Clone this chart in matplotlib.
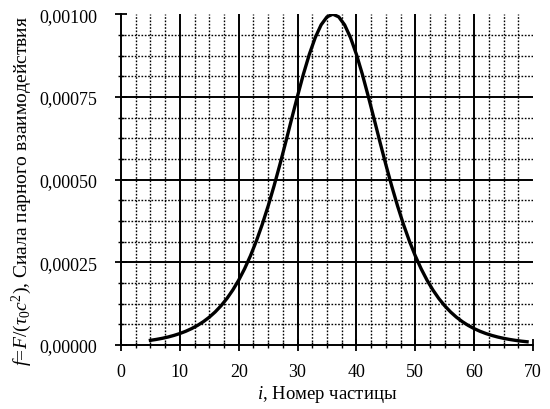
import matplotlib
matplotlib.use("Agg")
import matplotlib.pyplot as plt
import numpy as np
from matplotlib.ticker import MultipleLocator, FuncFormatter

# Particle number and pair interaction force
particle = list(range(5, 70))
force = [
    0.0142, 0.0170, 0.0203, 0.0243, 0.0291, 0.0348, 0.0416, 0.0497, 0.0593,
    0.0707, 0.0841, 0.1000, 0.1188, 0.1407, 0.1664, 0.1961, 0.2305, 0.2698,
    0.3144, 0.3645, 0.4200, 0.4806, 0.5456, 0.6138, 0.6840, 0.7528, 0.8190,
    0.8786, 0.9290, 0.9676, 0.9918, 1.0000, 0.9918, 0.9676, 0.9290, 0.8786,
    0.8190, 0.7528, 0.6840, 0.6138, 0.5456, 0.4806, 0.4200, 0.3645, 0.3144,
    0.2698, 0.2305, 0.1961, 0.1664, 0.1407, 0.1188, 0.1000, 0.0841, 0.0707,
    0.0593, 0.0497, 0.0416, 0.0348, 0.0291, 0.0243, 0.0203, 0.0170, 0.0142,
    0.0118, 0.0099,
]
force = [v * 1e-3 for v in force]

x_major = [0, 10, 20, 30, 40, 50, 60, 70]
y_major = [0.0, 0.00025, 0.0005, 0.00075, 0.001]

plt.rcParams["font.family"] = ["Liberation Serif", "DejaVu Serif"]
plt.rcParams["mathtext.fontset"] = "custom"
plt.rcParams["mathtext.rm"] = "Liberation Serif"
plt.rcParams["mathtext.it"] = "Liberation Serif:italic"

fig = plt.figure(figsize=(5.5, 4.1), dpi=100)
ax = fig.add_axes([0.22, 0.156, 0.749, 0.807])

ax.set_xlim(0, 70)
ax.set_ylim(0, 0.001)

# grid: solid major lines, dotted minor lines (not on the frame edges)
for xv in np.arange(2.5, 70, 2.5):
    if xv % 10 == 0:
        ax.axvline(xv, color="black", lw=1.4, zorder=1)
    else:
        ax.axvline(xv, color="black", lw=1.0, ls=(0, (1.2, 1.2)), zorder=1)
for yv in np.arange(0.0000625, 0.001, 0.0000625):
    if abs((yv / 0.00025) - round(yv / 0.00025)) < 1e-6:
        ax.axhline(yv, color="black", lw=1.4, zorder=1)
    else:
        ax.axhline(yv, color="black", lw=1.0, ls=(0, (1.2, 1.2)), zorder=1)

ax.plot(particle, force, color="black", lw=2.4, zorder=3)

ax.set_xticks(x_major)
ax.set_yticks(y_major)
ax.xaxis.set_minor_locator(MultipleLocator(2.5))
ax.yaxis.set_minor_locator(MultipleLocator(0.0000625))
ax.yaxis.set_major_formatter(FuncFormatter(lambda v, p: f"{v:.5f}".replace(".", ",")))

ax.tick_params(which="major", direction="inout", length=8, width=1.3,
               labelsize=13, colors="black")
ax.tick_params(axis="y", which="major", pad=13)
ax.tick_params(axis="x", which="major", pad=9)
ax.tick_params(which="minor", direction="inout", length=5, width=1.0)

for side in ["top", "right"]:
    ax.spines[side].set_visible(False)
for side in ["left", "bottom"]:
    ax.spines[side].set_linewidth(1.4)

ax.set_xlabel(r"$\it{i}$, Номер частицы", fontsize=13.5)
ax.set_ylabel(r"$f\!=\!F/(\tau_0 c^2)$, Сиала парного взаимодействия",
              fontsize=14)
ax.xaxis.set_label_coords(0.5, -0.115)
ax.yaxis.set_label_coords(-0.21, 0.47)

fig.savefig("out.png", dpi=100)
plt.close(fig)
